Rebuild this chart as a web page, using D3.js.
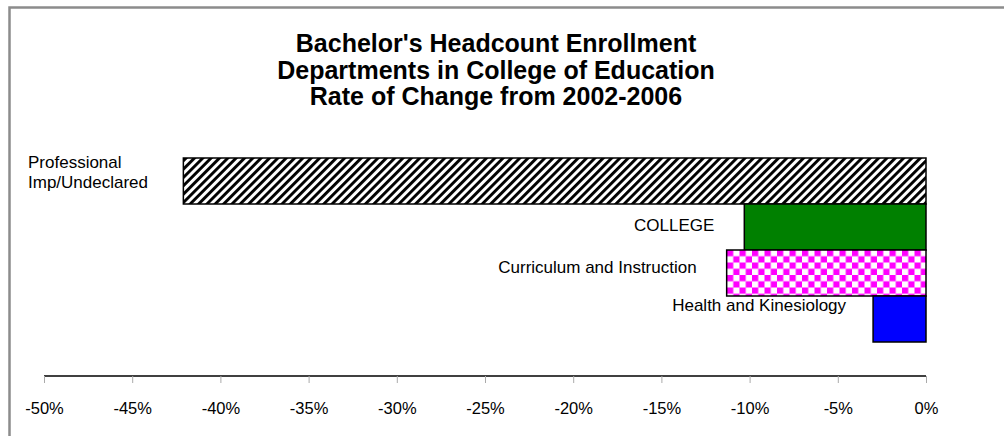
<!DOCTYPE html>
<html><head><meta charset="utf-8">
<script src="https://cdn.jsdelivr.net/npm/d3@7"></script>
<style>body{margin:0;background:#fff}svg{display:block;font-family:"Liberation Sans",Arial,sans-serif}</style>
</head><body><svg id="c" width="1004" height="436"></svg>
<script>
const titleLines = ["Bachelor's Headcount Enrollment","Departments in College of Education","Rate of Change from 2002-2006"];
const categories = ["Professional Imp/Undeclared","COLLEGE","Curriculum and Instruction","Health and Kinesiology"];
const values = [-0.421, -0.103, -0.113, -0.030];
const tickValues = [-0.5,-0.45,-0.4,-0.35,-0.3,-0.25,-0.2,-0.15,-0.1,-0.05,0];

const svg = d3.select("#c");
const defs = svg.append("defs");
const hatch = defs.append("pattern").attr("id","hatch").attr("patternUnits","userSpaceOnUse")
  .attr("width",5.9).attr("height",10).attr("patternTransform","rotate(45)");
hatch.append("rect").attr("width",5.9).attr("height",10).attr("fill","#fff");
hatch.append("rect").attr("width",2.9).attr("height",10).attr("fill","#000");
const check = defs.append("pattern").attr("id","check").attr("patternUnits","userSpaceOnUse")
  .attr("width",12.5).attr("height",12.5).attr("x",727).attr("y",250);
check.append("rect").attr("width",12.5).attr("height",12.5).attr("fill","#fff");
check.append("rect").attr("width",6.25).attr("height",6.25).attr("fill","#ff00ff");
check.append("rect").attr("x",6.25).attr("y",6.25).attr("width",6.25).attr("height",6.25).attr("fill","#ff00ff");
const fills = ["url(#hatch)","#008000","url(#check)","#0000ff"];

// frame
svg.append("path").attr("d","M9.5,436 V7.5 H1004").attr("fill","none").attr("stroke","#8c8c8c").attr("stroke-width",2.5);

// title
svg.append("g").selectAll("text").data(titleLines).join("text")
  .attr("x",496).attr("y",(d,i)=>52+i*26.5).attr("text-anchor","middle")
  .attr("font-size",25).attr("font-weight","bold").text(d=>d);

const x = d3.scaleLinear().domain([-0.5,0]).range([44,926]);
const y = d3.scaleBand().domain(categories).range([158,342]).padding(0);

svg.append("g").selectAll("rect").data(categories).join("rect")
  .attr("x",(d,i)=>x(values[i])).attr("y",d=>y(d))
  .attr("width",(d,i)=>x(0)-x(values[i])).attr("height",y.bandwidth())
  .attr("fill",(d,i)=>fills[i]).attr("stroke","#000").attr("stroke-width",1.5);

// axis
const ax = svg.append("g").attr("transform","translate(0,376)")
  .call(d3.axisBottom(x).tickValues(tickValues).tickSize(7).tickPadding(19.5));
ax.select(".domain").attr("stroke","#000").attr("stroke-width",1.5).attr("d","M44,0H926");
ax.selectAll(".tick line").attr("stroke","#aaa");
ax.selectAll(".tick text").attr("font-size",16.5).attr("font-family","Liberation Sans, Arial, sans-serif").attr("fill","#000")
  .text(d=>d3.format(".0%")(d).replace("−","-"));

// labels
const lab = svg.append("g").attr("font-size",17).attr("fill","#000");
lab.append("text").attr("x",28).attr("y",y(categories[0])+10)
  .selectAll("tspan").data(["Professional","Imp/Undeclared"]).join("tspan")
  .attr("x",28).attr("dy",(d,i)=>i?19.5:0).text(d=>d);
const offs = [null,{dx:-30,dy:27},{dx:-30,dy:23},{dx:-27,dy:15}];
categories.forEach((c,i)=>{
  if(i===0) return;
  lab.append("text").attr("text-anchor","end").attr("x",x(values[i])+offs[i].dx)
    .attr("y",y(c)+offs[i].dy).text(c);
});
</script></body></html>
